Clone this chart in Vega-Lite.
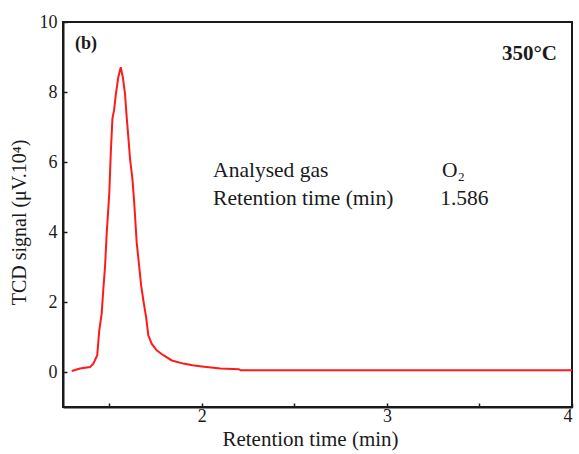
{
  "$schema": "https://vega.github.io/schema/vega-lite/v6.json",
  "width": 509,
  "height": 385,
  "autosize": {"type": "none"},
  "padding": {"left": 63, "top": 22, "right": 7, "bottom": 47},
  "background": "white",
  "config": {
    "view": {"stroke": "#1a1a1a", "strokeWidth": 2},
    "font": "Liberation Serif",
    "axis": {
      "domainColor": "#1a1a1a", "domainWidth": 2, "tickColor": "#1a1a1a", "tickWidth": 1.5,
      "tickSize": -4, "grid": false, "labelFont": "Liberation Serif", "labelFontSize": 18,
      "labelColor": "#1a1a1a", "titleFont": "Liberation Serif", "titleFontSize": 21,
      "titleFontWeight": "normal", "titleColor": "#1a1a1a"
    }
  },
  "datasets": {
    "curve": [
      {"t": 1.297, "s": 0.03}, {"t": 1.342, "s": 0.1}, {"t": 1.396, "s": 0.14}, {"t": 1.414, "s": 0.24},
      {"t": 1.435, "s": 0.48}, {"t": 1.446, "s": 1.19}, {"t": 1.459, "s": 1.67}, {"t": 1.468, "s": 2.38},
      {"t": 1.477, "s": 3.0}, {"t": 1.486, "s": 3.95}, {"t": 1.5, "s": 5.1}, {"t": 1.508, "s": 6.24},
      {"t": 1.517, "s": 7.24}, {"t": 1.526, "s": 7.48}, {"t": 1.536, "s": 7.95}, {"t": 1.549, "s": 8.43},
      {"t": 1.562, "s": 8.71}, {"t": 1.573, "s": 8.43}, {"t": 1.585, "s": 7.95}, {"t": 1.594, "s": 7.29},
      {"t": 1.603, "s": 6.71}, {"t": 1.612, "s": 6.1}, {"t": 1.625, "s": 5.52}, {"t": 1.634, "s": 4.9},
      {"t": 1.648, "s": 3.71}, {"t": 1.661, "s": 3.05}, {"t": 1.672, "s": 2.48}, {"t": 1.684, "s": 2.05},
      {"t": 1.699, "s": 1.57}, {"t": 1.711, "s": 1.05}, {"t": 1.729, "s": 0.81}, {"t": 1.756, "s": 0.62},
      {"t": 1.792, "s": 0.48}, {"t": 1.838, "s": 0.33}, {"t": 1.9, "s": 0.24}, {"t": 1.95, "s": 0.19},
      {"t": 2.0, "s": 0.16}, {"t": 2.1, "s": 0.1}, {"t": 2.2, "s": 0.08}, {"t": 2.21, "s": 0.05},
      {"t": 4.0, "s": 0.05}
    ],
    "panel": [
      {"t": 1.315, "s": 9.38, "label": "(b)"}
    ],
    "temp": [
      {"t": 3.919, "s": 9.1, "label": "350°C"}
    ],
    "notes": [
      {"t": 2.061, "s": 5.73, "label": "Analysed gas"},
      {"t": 3.297, "s": 5.73, "label": "O₂"},
      {"t": 2.061, "s": 4.95, "label": "Retention time (min)"},
      {"t": 3.288, "s": 4.95, "label": "1.586"}
    ]
  },
  "layer": [
    {
      "data": {"name": "curve"},
      "mark": {"type": "line", "color": "#ff1a1a", "strokeWidth": 2},
      "encoding": {
        "x": {"field": "t", "type": "quantitative",
          "scale": {"domain": [1.25, 4], "nice": false, "zero": false},
          "axis": {"title": "Retention time (min)", "values": [1.5, 2, 2.5, 3, 3.5, 4],
            "labelExpr": "datum.value % 1 == 0 ? '' + datum.value : ''", "labelPadding": 4, "titlePadding": 3, "titleX": 247}},
        "y": {"field": "s", "type": "quantitative",
          "scale": {"domain": [-1, 10], "nice": false, "zero": false},
          "axis": {"title": "TCD signal (μV.10⁴)", "values": [0, 1, 2, 3, 4, 5, 6, 7, 8, 9, 10],
            "labelExpr": "datum.value % 2 == 0 ? '' + datum.value : ''", "labelPadding": 10, "titlePadding": 10,
            "titleFontSize": 20, "titleY": 200}}
      }
    },
    {
      "data": {"name": "panel"},
      "mark": {"type": "text", "fontSize": 18, "fontWeight": "bold", "baseline": "middle", "align": "left", "color": "#1a1a1a"},
      "encoding": {
        "x": {"field": "t", "type": "quantitative"},
        "y": {"field": "s", "type": "quantitative"},
        "text": {"field": "label"}
      }
    },
    {
      "data": {"name": "temp"},
      "mark": {"type": "text", "fontSize": 21, "fontWeight": "bold", "baseline": "middle", "align": "right", "color": "#1a1a1a"},
      "encoding": {
        "x": {"field": "t", "type": "quantitative"},
        "y": {"field": "s", "type": "quantitative"},
        "text": {"field": "label"}
      }
    },
    {
      "data": {"name": "notes"},
      "mark": {"type": "text", "fontSize": 21.5, "baseline": "middle", "align": "left", "color": "#1a1a1a"},
      "encoding": {
        "x": {"field": "t", "type": "quantitative"},
        "y": {"field": "s", "type": "quantitative"},
        "text": {"field": "label"}
      }
    }
  ]
}
